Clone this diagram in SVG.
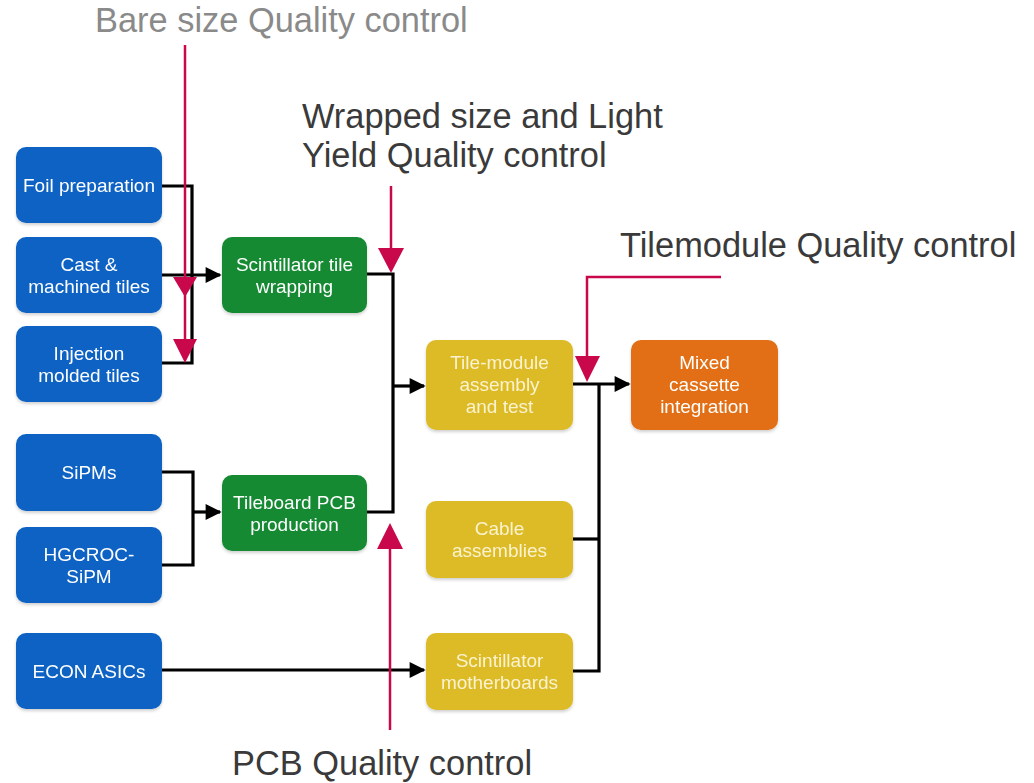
<svg xmlns="http://www.w3.org/2000/svg" width="1034" height="783" viewBox="0 0 1034 783">
<defs>
<style>
.box{stroke:none}
.blue{fill:#0d62c4}
.green{fill:#138a32}
.yellow{fill:#dcbb26}
.orange{fill:#e26e12}
.bt{font-family:"Liberation Sans",Arial,sans-serif;font-size:19px;fill:#ffffff;text-anchor:middle}
.yt{fill:#fbf3cf}
.qc{font-family:"Liberation Sans",Arial,sans-serif;font-size:34.4px;fill:#3a3a3a}
.conn{fill:none;stroke:#000;stroke-width:3.2}
.red{fill:none;stroke:#c8084a;stroke-width:2.5}
.redhead{fill:#c8084a}
</style>
<marker id="ah" viewBox="0 0 10 10" refX="9" refY="5" markerWidth="5.3" markerHeight="5" orient="auto" markerUnits="strokeWidth">
<path d="M0,0 L10,5 L0,10 Z" fill="#000"/>
</marker>
<filter id="sh" x="-10%" y="-10%" width="120%" height="130%">
<feDropShadow dx="0" dy="2" stdDeviation="1.5" flood-color="#000" flood-opacity="0.18"/>
</filter>
</defs>
<rect width="1034" height="783" fill="#ffffff"/>

<g id="connectors">
<polyline class="conn" points="162,186 192,186 192,363 162,363"/>
<line class="conn" x1="162" y1="275" x2="220" y2="275" marker-end="url(#ah)"/>
<polyline class="conn" points="162,472 193,472 193,565 162,565"/>
<line class="conn" x1="193" y1="512" x2="220" y2="512" marker-end="url(#ah)"/>
<polyline class="conn" points="367,274 393,274 393,512 367,512"/>
<line class="conn" x1="393" y1="386" x2="424" y2="386" marker-end="url(#ah)"/>
<line class="conn" x1="162" y1="670" x2="424" y2="670" marker-end="url(#ah)"/>
<line class="conn" x1="573" y1="384" x2="629" y2="384" marker-end="url(#ah)"/>
<polyline class="conn" points="599,384 599,671 573,671"/>
<line class="conn" x1="573" y1="539" x2="599" y2="539"/>
</g>

<g id="qc-arrows">
<line class="red" x1="185" y1="45" x2="185" y2="345"/>
<polygon class="redhead" points="173,277 197,277 185,297"/>
<polygon class="redhead" points="173,339 197,339 185,363"/>
<line class="red" x1="391" y1="186" x2="391" y2="252"/>
<polygon class="redhead" points="378,248 404,248 391,273"/>
<polyline class="red" points="721,277 587,277 587,360"/>
<polygon class="redhead" points="575,356 600,356 587,382"/>
<line class="red" x1="390" y1="730" x2="390" y2="545"/>
<polygon class="redhead" points="377,549 403,549 390,523"/>
</g>

<g id="foil" filter="url(#sh)"><rect class="box blue" x="16" y="147" width="146" height="76" rx="10"/><text class="bt" x="89" y="192">Foil preparation</text></g>
<g id="cast" filter="url(#sh)"><rect class="box blue" x="16" y="237" width="146" height="76" rx="10"/><text class="bt" x="89" y="271">Cast &amp;</text><text class="bt" x="89" y="293">machined tiles</text></g>
<g id="injection" filter="url(#sh)"><rect class="box blue" x="16" y="326" width="146" height="76" rx="10"/><text class="bt" x="89" y="360">Injection</text><text class="bt" x="89" y="382">molded tiles</text></g>
<g id="sipms" filter="url(#sh)"><rect class="box blue" x="16" y="434" width="146" height="77" rx="10"/><text class="bt" x="89" y="479">SiPMs</text></g>
<g id="hgcroc" filter="url(#sh)"><rect class="box blue" x="16" y="527" width="146" height="76" rx="10"/><text class="bt" x="89" y="561">HGCROC-</text><text class="bt" x="89" y="583">SiPM</text></g>
<g id="econ" filter="url(#sh)"><rect class="box blue" x="16" y="633" width="146" height="76" rx="10"/><text class="bt" x="89" y="678">ECON ASICs</text></g>

<g id="wrapping" filter="url(#sh)"><rect class="box green" x="222" y="237" width="145" height="76" rx="10"/><text class="bt" x="294.5" y="271">Scintillator tile</text><text class="bt" x="294.5" y="293">wrapping</text></g>
<g id="tileboard" filter="url(#sh)"><rect class="box green" x="222" y="475" width="145" height="76" rx="10"/><text class="bt" x="294.5" y="509">Tileboard PCB</text><text class="bt" x="294.5" y="531">production</text></g>

<g id="tilemodule" filter="url(#sh)"><rect class="box yellow" x="426" y="340" width="147" height="90" rx="10"/><text class="bt yt" x="499.5" y="369">Tile-module</text><text class="bt yt" x="499.5" y="391">assembly</text><text class="bt yt" x="499.5" y="413">and test</text></g>
<g id="cable" filter="url(#sh)"><rect class="box yellow" x="426" y="501" width="147" height="77" rx="10"/><text class="bt yt" x="499.5" y="535">Cable</text><text class="bt yt" x="499.5" y="557">assemblies</text></g>
<g id="motherboards" filter="url(#sh)"><rect class="box yellow" x="426" y="633" width="147" height="77" rx="10"/><text class="bt yt" x="499.5" y="667">Scintillator</text><text class="bt yt" x="499.5" y="689">motherboards</text></g>

<g id="cassette" filter="url(#sh)"><rect class="box orange" x="631" y="340" width="147" height="90" rx="10"/><text class="bt" x="704.5" y="369">Mixed</text><text class="bt" x="704.5" y="391">cassette</text><text class="bt" x="704.5" y="413">integration</text></g>

<g id="labels">
<text class="qc" x="95" y="32" style="fill:#8a8a8a">Bare size Quality control</text>
<text class="qc" x="302" y="128">Wrapped size and Light</text>
<text class="qc" x="302" y="167">Yield Quality control</text>
<text class="qc" x="620" y="257">Tilemodule Quality control</text>
<text class="qc" x="232" y="775">PCB Quality control</text>
</g>
</svg>
